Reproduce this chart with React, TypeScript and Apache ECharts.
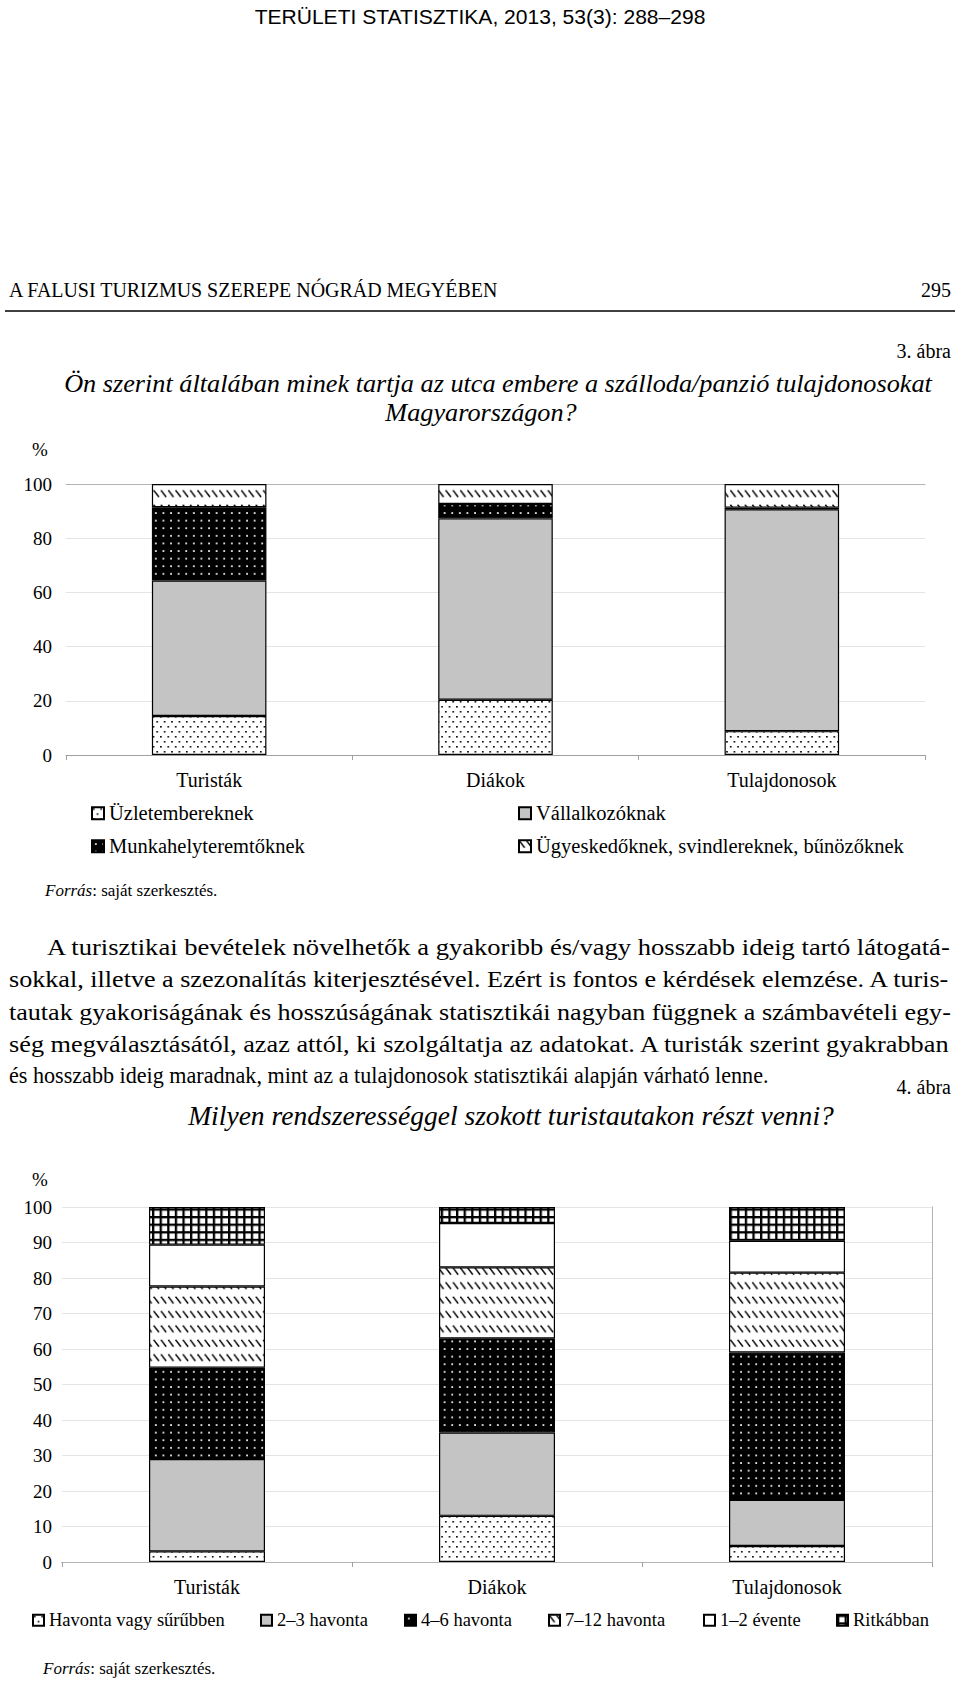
import React, { useEffect, useRef } from "react";
import * as echarts from "echarts";

// ---------- data ----------
const categories = ["Turisták", "Diákok", "Tulajdonosok"];

// Figure 3
const fig3Names = [
  "Üzletembereknek",
  "Vállalkozóknak",
  "Munkahelyteremtőknek",
  "Ügyeskedőknek, svindlereknek, bűnözőknek",
];
const uzletembereknek = [14.4, 20.4, 8.8];
const vallalkozoknak = [50.0, 66.9, 81.9];
const munkahelyteremtoknek = [27.0, 5.3, 0.6];
const ugyeskedoknek = [8.6, 7.4, 8.7];

// Figure 4
const fig4Names = [
  "Havonta vagy sűrűbben",
  "2–3 havonta",
  "4–6 havonta",
  "7–12 havonta",
  "1–2 évente",
  "Ritkábban",
];
const havonta = [3.0, 13.0, 4.5];
const kethavonta = [26.0, 23.5, 13.0];
const hathavonta = [25.7, 26.5, 41.5];
const evesen = [22.9, 20.0, 22.5];
const ketevente = [11.8, 12.5, 9.0];
const ritkabban = [10.6, 4.5, 9.5];

// texts
const headerText = "TERÜLETI STATISZTIKA, 2013, 53(3): 288–298";
const runningHead = "A FALUSI TURIZMUS SZEREPE NÓGRÁD MEGYÉBEN";
const pageNo = "295";
const fig3Label = "3. ábra";
const fig3Title = [
  "Ön szerint általában minek tartja az utca embere a szálloda/panzió tulajdonosokat",
  "Magyarországon?",
];
const fig4Label = "4. ábra";
const fig4Title = "Milyen rendszerességgel szokott turistautakon részt venni?";
const paragraph = [
  "A turisztikai bevételek növelhetők a gyakoribb és/vagy hosszabb ideig tartó látogatá-",
  "sokkal, illetve a szezonalítás kiterjesztésével. Ezért is fontos e kérdések elemzése. A turis-",
  "tautak gyakoriságának és hosszúságának statisztikái nagyban függnek a számbavételi egy-",
  "ség megválasztásától, azaz attól, ki szolgáltatja az adatokat. A turisták szerint gyakrabban",
  "és hosszabb ideig maradnak, mint az a tulajdonosok statisztikái alapján várható lenne.",
];

const SERIF = '"Liberation Serif", "Times New Roman", serif';
const SANS = '"Liberation Sans", Arial, sans-serif';

function svgPattern(w: number, h: number, bg: string, body: string) {
  const svg = `<svg xmlns="http://www.w3.org/2000/svg" width="${w}" height="${h}" viewBox="0 0 ${w} ${h}"><rect x="0" y="0" width="${w}" height="${h}" fill="${bg}"/>${body}</svg>`;
  return {
    image: "data:image/svg+xml;charset=utf-8," + encodeURIComponent(svg),
    repeat: "repeat",
    imageWidth: w,
    imageHeight: h,
  } as any;
}

export default function App() {
  const ref = useRef<HTMLDivElement>(null);

  useEffect(() => {
    if (!ref.current) return;
    const cnv = document.createElement("canvas");
    const ctx = cnv.getContext("2d")!;
    const measure = (t: string, font: string) => {
      ctx.font = font;
      return ctx.measureText(t).width;
    };

    // patterns
    const lightDots = svgPattern(
      7.4,
      10,
      "#ffffff",
      '<rect x="1" y="1" width="1.6" height="1.6" fill="#000"/><rect x="4.7" y="6" width="1.6" height="1.6" fill="#000"/>'
    );
    const darkDots = svgPattern(
      7.6,
      7.6,
      "#000000",
      '<rect x="3" y="3" width="1.7" height="1.7" fill="#fff"/>'
    );
    const hatch = svgPattern(
      7.3,
      14.4,
      "#ffffff",
      '<line x1="0.4" y1="0.6" x2="5.6" y2="7.4" stroke="#000" stroke-width="1.5"/>'
    );
    const grid = svgPattern(
      7.6,
      7.6,
      "#ffffff",
      '<rect x="0" y="0" width="7.6" height="2.3" fill="#000"/><rect x="0" y="0" width="2.3" height="7.6" fill="#000"/>'
    );
    const gray = "#c4c4c4";
    const white = "#ffffff";

    // ---- text sizing ----
    const fsHeader = (20 * 451) / measure(headerText, `20px ${SANS}`);
    const fsRun = (20 * 490) / measure(runningHead, `20px ${SERIF}`);
    const fsTitle = (24 * 868) / measure(fig3Title[0], `italic 24px ${SERIF}`);
    const fsTitle2 = (24 * 646) / measure(fig4Title, `italic 24px ${SERIF}`);
    const fsPara = (22 * 760) / measure(paragraph[4], `22px ${SERIF}`);
    const paraY = [947, 979, 1012, 1044, 1075];
    const paraX = [47, 9, 9, 9, 9];

    const txt = (
      text: string,
      x: number,
      y: number,
      fontSize: number,
      align: string,
      opts: any = {}
    ) => ({
      type: "text",
      x,
      y,
      silent: true,
      scaleX: opts.scaleX ?? 1,
      style: {
        text,
        fontSize,
        fontFamily: opts.family ?? SERIF,
        fontStyle: opts.italic ? "italic" : "normal",
        fill: "#000",
        align,
        textAlign: align,
        verticalAlign: "middle",
        textVerticalAlign: "middle",
        rich: opts.rich,
      },
    });

    const graphics: any[] = [];
    graphics.push(txt(headerText, 480, 16, fsHeader, "center", { family: SANS }));
    graphics.push(txt(runningHead, 9, 290, fsRun, "left"));
    graphics.push(txt(pageNo, 951, 290, 20, "right"));
    graphics.push({
      type: "line",
      silent: true,
      shape: { x1: 5, y1: 311, x2: 955, y2: 311 },
      style: { stroke: "#000", lineWidth: 1.6 },
    });
    graphics.push(txt(fig3Label, 951, 351, 20, "right"));
    graphics.push(txt(fig3Title[0], 498, 383, fsTitle, "center", { italic: true }));
    graphics.push(txt(fig3Title[1], 481, 412, fsTitle, "center", { italic: true }));
    graphics.push(txt("%", 40, 449, 19, "center"));
    graphics.push(
      txt("{i|Forrás}: saját szerkesztés.", 45, 890, 17, "left", {
        rich: { i: { fontStyle: "italic", fontSize: 17, fontFamily: SERIF } },
      })
    );
    paragraph.forEach((line, i) => {
      const w = measure(line, `${fsPara}px ${SERIF}`);
      const target = i === 4 ? w : 951 - paraX[i];
      graphics.push(
        txt(line, paraX[i], paraY[i], fsPara, "left", { scaleX: target / w })
      );
    });
    graphics.push(txt(fig4Label, 951, 1087, 20, "right"));
    graphics.push(txt(fig4Title, 511, 1115, fsTitle2, "center", { italic: true }));
    graphics.push(txt("%", 40, 1179, 19, "center"));
    graphics.push(
      txt("{i|Forrás}: saját szerkesztés.", 43, 1668, 17, "left", {
        rich: { i: { fontStyle: "italic", fontSize: 17, fontFamily: SERIF } },
      })
    );

    const chart = echarts.init(ref.current, null, { renderer: "svg" });

    const border = { borderColor: "#000", borderWidth: 1.2 };
    const bar = (
      name: string,
      data: number[],
      color: any,
      xi: number,
      yi: number,
      stack: string
    ) => ({
      name,
      type: "bar",
      stack,
      xAxisIndex: xi,
      yAxisIndex: yi,
      barWidth: "40%",
      data,
      itemStyle: { color, ...border },
      emphasis: { disabled: true },
    });

    const catAxis = (gi: number) => ({
      gridIndex: gi,
      type: "category",
      data: categories,
      position: "bottom",
      axisLine: { lineStyle: { color: "#a0a0a0", width: 1 } },
      axisTick: { show: true, length: 5, lineStyle: { color: "#a0a0a0" } },
      axisLabel: {
        fontSize: 20,
        fontFamily: SERIF,
        color: "#000",
        margin: 15,
      },
    });
    const topAxis = (gi: number) => ({
      gridIndex: gi,
      type: "category",
      data: categories,
      position: "top",
      axisLine: { show: true, lineStyle: { color: "#b4b4b4", width: 1 } },
      axisTick: { show: false },
      axisLabel: { show: false },
    });

    const legendItem = (
      name: string,
      left: number,
      cy: number,
      fs: number,
      size: number
    ) => ({
      data: [name],
      left,
      top: cy - fs / 2,
      padding: 0,
      itemWidth: size,
      itemHeight: size,
      icon: "rect",
      selectedMode: false,
      textStyle: {
        fontSize: fs,
        lineHeight: fs,
        fontFamily: SERIF,
        color: "#000",
      },
    });

    const option: any = {
      animation: false,
      backgroundColor: "#ffffff",
      grid: [
        { left: 66, right: 35, top: 484, height: 271 },
        { left: 62, right: 28, top: 1207, height: 355 },
      ],
      xAxis: [catAxis(0), topAxis(0), catAxis(1), topAxis(1)],
      yAxis: [
        {
          gridIndex: 0,
          type: "value",
          min: 0,
          max: 100,
          interval: 20,
          axisLine: { show: false },
          axisTick: { show: false },
          axisLabel: { fontSize: 19, fontFamily: SERIF, color: "#000", margin: 14 },
          splitLine: { lineStyle: { color: "#e4e4e4", width: 1 } },
        },
        {
          gridIndex: 1,
          type: "value",
          min: 0,
          max: 100,
          interval: 10,
          axisLine: { show: false },
          axisTick: { show: false },
          axisLabel: { fontSize: 19, fontFamily: SERIF, color: "#000", margin: 10 },
          splitLine: { lineStyle: { color: "#e4e4e4", width: 1 } },
        },
        {
          gridIndex: 1,
          type: "value",
          position: "right",
          min: 0,
          max: 100,
          interval: 10,
          axisLine: { show: true, lineStyle: { color: "#b4b4b4", width: 1 } },
          axisTick: { show: false },
          axisLabel: { show: false },
          splitLine: { show: false },
        },
      ],
      legend: [
        legendItem(fig3Names[0], 91, 813, 20.5, 12),
        legendItem(fig3Names[1], 518, 813, 20.5, 12),
        legendItem(fig3Names[2], 91, 846, 20.5, 12),
        legendItem(fig3Names[3], 518, 846, 20.5, 12),
        legendItem(fig4Names[0], 32, 1620, 18.5, 11),
        legendItem(fig4Names[1], 260, 1620, 18.5, 11),
        legendItem(fig4Names[2], 404, 1620, 18.5, 11),
        legendItem(fig4Names[3], 548, 1620, 18.5, 11),
        legendItem(fig4Names[4], 703, 1620, 18.5, 11),
        legendItem(fig4Names[5], 836, 1620, 18.5, 11),
      ],
      series: [
        bar(fig3Names[0], uzletembereknek, lightDots, 0, 0, "f3"),
        bar(fig3Names[1], vallalkozoknak, gray, 0, 0, "f3"),
        bar(fig3Names[2], munkahelyteremtoknek, darkDots, 0, 0, "f3"),
        bar(fig3Names[3], ugyeskedoknek, hatch, 0, 0, "f3"),
        bar(fig4Names[0], havonta, lightDots, 2, 1, "f4"),
        bar(fig4Names[1], kethavonta, gray, 2, 1, "f4"),
        bar(fig4Names[2], hathavonta, darkDots, 2, 1, "f4"),
        bar(fig4Names[3], evesen, hatch, 2, 1, "f4"),
        bar(fig4Names[4], ketevente, white, 2, 1, "f4"),
        bar(fig4Names[5], ritkabban, grid, 2, 1, "f4"),
      ],
      graphic: { elements: graphics },
    };

    chart.setOption(option);
    return () => {
      chart.dispose();
    };
  }, []);

  return (
    <div
      ref={ref}
      style={{
        position: "absolute",
        left: 0,
        top: 0,
        width: 960,
        height: 1683,
        background: "#fff",
      }}
    />
  );
}
